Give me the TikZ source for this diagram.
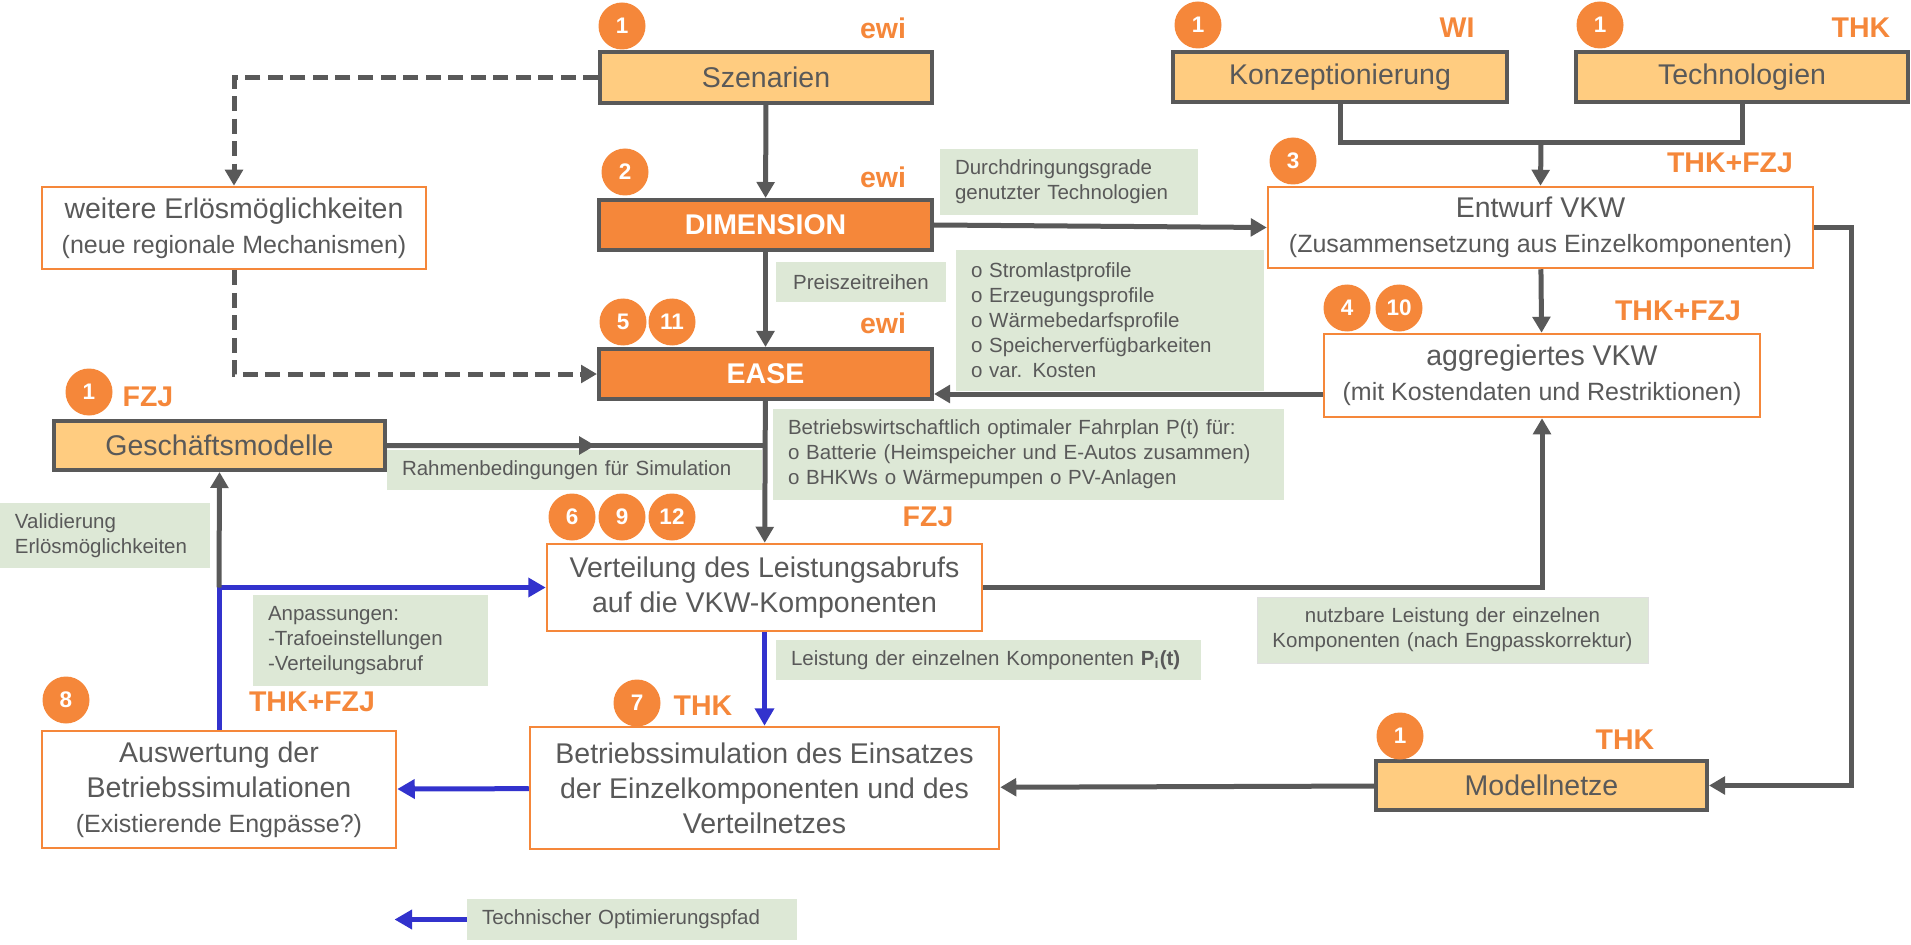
\documentclass[tikz,border=0pt]{standalone}
\usepackage{fontspec}
\setmainfont{Liberation Sans}
\usetikzlibrary{arrows.meta,calc}
\definecolor{lgrey}{RGB}{89,89,89}
\definecolor{vorange}{RGB}{245,135,58}
\definecolor{lorange}{RGB}{255,204,128}
\definecolor{ngreen}{RGB}{221,232,214}
\definecolor{oblue}{RGB}{50,50,205}

\begin{document}
\begin{tikzpicture}[x=0.4pt,y=-0.4pt,
  every node/.style={text=lgrey,font=\fontsize{11.4}{14}\selectfont},
  inp/.style={draw=lgrey,line width=1.6pt,fill=lorange,inner sep=0pt},
  tool/.style={draw=lgrey,line width=1.6pt,fill=vorange,text=white,font=\bfseries\fontsize{11.4}{14}\selectfont,inner sep=0pt},
  work/.style={draw=vorange,line width=1pt,fill=white,align=center,inner sep=0pt},
  note/.style={fill=ngreen,font=\fontsize{8.2}{10}\selectfont,align=left,inner xsep=6pt,inner ysep=0pt},
  num/.style={circle,fill=vorange,text=white,font=\bfseries\fontsize{9}{9}\selectfont,minimum size=18.8pt,inner sep=0pt},
  who/.style={text=vorange,font=\bfseries\fontsize{11.4}{14}\selectfont,inner sep=0pt},
  conn/.style={draw=lgrey,line width=2pt,-{Triangle[length=6.4pt,width=7pt]}},
  opt/.style={draw=oblue,line width=2pt,-{Triangle[length=7pt,width=7.5pt]}}]
\useasboundingbox (0,0) rectangle (1911,945);

\node[inp,minimum width=132.8pt,minimum height=20.4pt] (Sz) at (766,77.5) {Szenarien};
\node[inp,minimum width=133.6pt,minimum height=20pt] (Ko) at (1340,77) {Konzeptionierung};
\node[inp,minimum width=132.8pt,minimum height=20pt] (Te) at (1742,77) {Technologien};
\node[tool,minimum width=133.2pt,minimum height=20pt] (Dim) at (765.5,225) {DIMENSION};
\node[tool,minimum width=133.2pt,minimum height=20pt] (Ea) at (765.5,374) {EASE};
\node[work,minimum width=153.6pt,minimum height=32.8pt] (We) at (234,228)
  {weitere Erlösmöglichkeiten\\{\fontsize{10}{12}\selectfont (neue regionale Mechanismen)}};
\node[work,minimum width=218pt,minimum height=32.4pt] (En) at (1540.5,227.5)
  {Entwurf VKW\\{\fontsize{10}{12}\selectfont (Zusammensetzung aus Einzelkomponenten)}};
\node[work,minimum width=174.4pt,minimum height=33.2pt] (Ag) at (1542,375.5)
  {aggregiertes VKW\\{\fontsize{10}{12}\selectfont (mit Kostendaten und Restriktionen)}};
\node[inp,minimum width=132.4pt,minimum height=19.6pt] (Ge) at (219.5,445.5) {Geschäftsmodelle};
\node[work,minimum width=174pt,minimum height=34.8pt] (Ve) at (764.5,587.5)
  {Verteilung des Leistungsabrufs\\auf die VKW-Komponenten};
\node[work,minimum width=187.6pt,minimum height=48.8pt] (Be) at (764.5,788)
  {Betriebssimulation des Einsatzes\\der Einzelkomponenten und des\\Verteilnetzes};
\node[work,minimum width=141.6pt,minimum height=46.8pt] (Au) at (219,789.5)
  {Auswertung der\\Betriebssimulationen\\{\fontsize{10}{12}\selectfont (Existierende Engpässe?)}};
\node[inp,minimum width=132.4pt,minimum height=19.6pt] (Mo) at (1541.5,785.5) {Modellnetze};

\node[note,text width=91.2pt,minimum height=26.4pt] (Du) at (1069,182) {Durchdringungsgrade\\genutzter Technologien};
\node[note,minimum width=68pt,minimum height=16pt] (Pr) at (861,282) {Preiszeitreihen};
\node[note,text width=111.2pt,minimum height=56.4pt] (St) at (1110,320.5)
  {o Stromlastprofile\\o Erzeugungsprofile\\o Wärmebedarfsprofile\\o Speicherverfügbarkeiten\\o var. Kosten};
\node[note,text width=192.4pt,minimum height=36.4pt] (Bw) at (1028.5,454.5)
  {Betriebswirtschaftlich optimaler Fahrplan P(t) für:\\o Batterie (Heimspeicher und E-Autos zusammen)\\o BHKWs o Wärmepumpen o PV-Anlagen};
\node[note,text width=138pt,minimum height=16pt] (Ra) at (574.5,470) {Rahmenbedingungen für Simulation};
\node[note,text width=72pt,minimum height=26pt] (Va) at (105,535.5) {Validierung\\Erlösmöglichkeiten};
\node[note,text width=82pt,minimum height=36.4pt] (An) at (370.5,640.5) {Anpassungen:\\-Trafoeinstellungen\\-Verteilungsabruf};
\node[note,text width=158pt,minimum height=16pt] (Le) at (988.5,660)
  {Leistung der einzelnen Komponenten \textbf{P\textsubscript{i}(t)}};
\node[note,draw=black!12,align=center,text width=144.4pt,minimum height=26.4pt] (Nu) at (1452.5,630)
  {nutzbare Leistung der einzelnen\\Komponenten (nach Engpasskorrektur)};
\node[note,text width=120pt,minimum height=16.4pt] (Lg) at (632,919.5) {Technischer Optimierungspfad};

\node[num] (c1) at (622,26) {1};
\node[num] (c2) at (625,172) {2};
\node[num] (c5) at (623,322) {5};
\node[num] (c11) at (672,322) {11};
\node[num] (c1g) at (89,392) {1};
\node[num] (c1k) at (1198,25) {1};
\node[num] (c1t) at (1600,25) {1};
\node[num] (c3) at (1293,161) {3};
\node[num] (c4) at (1347,308) {4};
\node[num] (c10) at (1399,308) {10};
\node[num] (c6) at (572,517) {6};
\node[num] (c9) at (622,517) {9};
\node[num] (c12) at (672,517) {12};
\node[num] (c8) at (66,700) {8};
\node[num] (c7) at (637,703) {7};
\node[num] (c1m) at (1400,736) {1};

\node[who] (wSz) at (883,28) {ewi};
\node[who] (wDim) at (883,177) {ewi};
\node[who] (wEa) at (883,323) {ewi};
\node[who] (wGe) at (148,397) {FZJ};
\node[who] (wKo) at (1457,28) {WI};
\node[who] (wTe) at (1861,28) {THK};
\node[who] (wEn) at (1730,163) {THK+FZJ};
\node[who] (wAg) at (1678,311) {THK+FZJ};
\node[who] (wVe) at (928,517) {FZJ};
\node[who] (wAu) at (312,702) {THK+FZJ};
\node[who] (wBe) at (703,706) {THK};
\node[who] (wMo) at (1625,740) {THK};

\draw[conn] (Sz) -- (Dim);
\draw[conn] (Dim) -- (Ea);
\draw[conn,dash pattern=on 6pt off 3pt] (Sz.west) -| (We.north);
\draw[conn,dash pattern=on 6pt off 3pt] (We.south) |- (Ea.west);
\coordinate (Mg) at (1541,143);
\draw[conn,-] (Ko.south) |- (Mg) -| (Te.south);
\draw[conn] (Mg) -- (En.north);
\draw[conn] (Dim.east) -- (En.west);
\draw[conn] (En) -- (Ag);
\coordinate (Ay) at (0,394);
\draw[conn] (Ag.west |- Ay) -- (Ea.east |- Ay);
\coordinate (Gj) at (Ea.south |- Ge.east);
\draw[conn,-] (Ge.east) -- (Gj);
\draw[conn] (Ge.east) -- ($(Ge.east)!0.55!(Gj)$);
\draw[conn] (Ea) -- (Ve);
\draw[conn] (Ve.east) -| (Ag.south);
\draw[conn] (En.east) -- ++(37,0) |- (Mo.east);
\draw[conn] (Mo) -- (Be);
\draw[opt] (Ve) -- (Be);
\draw[opt] (Be) -- (Au);
\coordinate (Bj) at (Au.north |- Ve.west);
\draw[opt] (Au.north) |- (Ve.west);
\draw[conn] (Bj) -- (Ge.south);
\draw[opt] (Lg.west) -- ++(-72,0);
\end{tikzpicture}
\end{document}
